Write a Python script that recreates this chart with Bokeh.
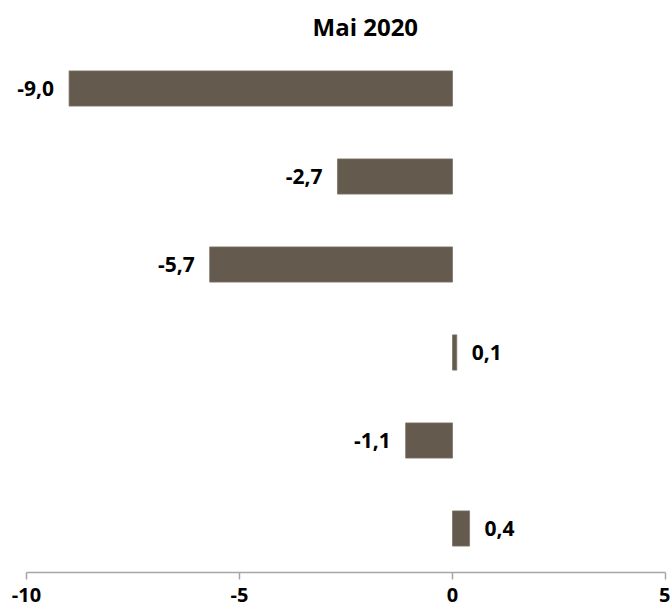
from bokeh.plotting import figure
from bokeh.models import ColumnDataSource, FixedTicker, Range1d
from bokeh.embed import file_html
from bokeh.resources import INLINE
from bokeh.core.properties import value

# data (top to bottom)
positions = [1, 2, 3, 4, 5, 6]
values = [-9.0, -2.7, -5.7, 0.1, -1.1, 0.4]
labels = ["-9,0", "-2,7", "-5,7", "0,1", "-1,1", "0,4"]
ticks = [-10, -5, 0, 5]
title_text = "Mai 2020"

FONT = "Open Sans"

p = figure(width=670, height=615, output_backend="svg", toolbar_location=None,
           x_range=Range1d(-10.61, 5.117), y_range=Range1d(6.5, 0.5),
           min_border_left=0, min_border_right=0, min_border_top=44, min_border_bottom=43)
p.title.text = title_text
p.title.align = "left"
p.title.offset = 312
p.title.standoff = 4
p.title.text_font = FONT
p.title.text_font_style = "bold"
p.title.text_font_size = "24px"
p.title.text_color = "#000000"

src = ColumnDataSource(dict(y=positions, right=values, left=[0]*len(values)))
p.hbar(y="y", left="left", right="right", height=0.4, source=src,
       fill_color="#655a4e", line_color="#7d7468", line_width=0.8)

neg = [i for i, v in enumerate(values) if v < 0]
pos = [i for i, v in enumerate(values) if v >= 0]
nsrc = ColumnDataSource(dict(x=[values[i] for i in neg], y=[positions[i] for i in neg], t=[labels[i] for i in neg]))
psrc = ColumnDataSource(dict(x=[values[i] for i in pos], y=[positions[i] for i in pos], t=[labels[i] for i in pos]))
p.text(x="x", y="y", text="t", source=nsrc, x_offset=-15, text_align="right", text_baseline="middle",
       text_font=value(FONT), text_font_style="bold", text_font_size="21px", text_color="#000000")
p.text(x="x", y="y", text="t", source=psrc, x_offset=15, text_align="left", text_baseline="middle",
       text_font=value(FONT), text_font_style="bold", text_font_size="21px", text_color="#000000")

p.yaxis.visible = False
p.xgrid.visible = False
p.ygrid.visible = False
p.outline_line_color = None
p.xaxis.bounds = (ticks[0], ticks[-1])
p.xaxis.ticker = FixedTicker(ticks=ticks)
p.xaxis.major_label_overrides = {t: str(t) for t in ticks}
p.xaxis.axis_line_color = "#a6a6a6"
p.xaxis.axis_line_width = 1.5
p.xaxis.major_tick_line_color = "#a6a6a6"
p.xaxis.major_tick_line_width = 1.5
p.xaxis.major_tick_out = 7
p.xaxis.major_tick_in = 0
p.xaxis.minor_tick_line_color = None
p.xaxis.major_label_text_font = FONT
p.xaxis.major_label_text_font_style = "bold"
p.xaxis.major_label_text_font_size = "20px"
p.xaxis.major_label_text_color = "#000000"
p.xaxis.major_label_standoff = 8
p.background_fill_color = "white"
p.border_fill_color = "white"

open("out.html", "w").write(file_html(p, INLINE))
